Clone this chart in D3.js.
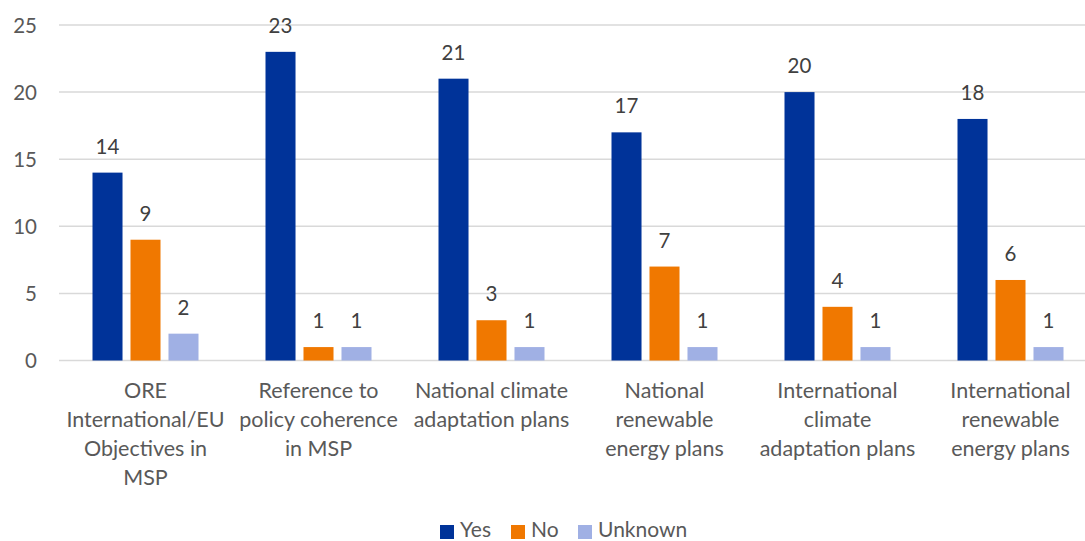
<!DOCTYPE html>
<html>
<head>
<meta charset="utf-8">
<script src="https://cdn.jsdelivr.net/npm/d3@7"></script>
<style>
  html, body { margin: 0; padding: 0; background: #fff; overflow: hidden; }
  svg { display: block; font-family: Lato, "Open Sans", sans-serif; }
</style>
</head>
<body>
<svg id="chart" width="1085" height="541"></svg>
<script>
// Categories, with the line breaks used for their axis labels
const categories = [
  "ORE International/EU Objectives in MSP",
  "Reference to policy coherence in MSP",
  "National climate adaptation plans",
  "National renewable energy plans",
  "International climate adaptation plans",
  "International renewable energy plans"
];
const categoryLines = [
  ["ORE", "International/EU", "Objectives in", "MSP"],
  ["Reference to", "policy coherence", "in MSP"],
  ["National climate", "adaptation plans"],
  ["National", "renewable", "energy plans"],
  ["International", "climate", "adaptation plans"],
  ["International", "renewable", "energy plans"]
];
const seriesNames = ["Yes", "No", "Unknown"];
const yesValues = [14, 23, 21, 17, 20, 18];
const noValues = [9, 1, 3, 7, 4, 6];
const unknownValues = [2, 1, 1, 1, 1, 1];
const yTicks = [0, 5, 10, 15, 20, 25];
const seriesColors = ["#003399", "#F07800", "#A0B0E4"];

(function draw() {
  const series = [yesValues, noValues, unknownValues];
  const svg = d3.select("#chart");

  const plotLeft = 59, plotRight = 1097, plotTop = 25, plotBottom = 360.5;

  const x = d3.scaleBand().domain(categories).range([plotLeft, plotRight]);
  const xs = d3.scaleBand().domain(seriesNames).range([0, 106]).paddingInner(0.21);
  const y = d3.scaleLinear().domain([0, 25]).range([plotBottom, plotTop]);

  // Horizontal gridlines
  svg.append("g")
    .selectAll("line")
    .data(yTicks)
    .join("line")
    .attr("x1", plotLeft).attr("x2", plotRight)
    .attr("y1", d => y(d)).attr("y2", d => y(d))
    .attr("stroke", "#d9d9d9").attr("stroke-width", 1.5);

  // Y axis labels
  const yAxis = d3.axisLeft(y).tickValues(yTicks).tickSize(0).tickPadding(0);
  const yg = svg.append("g").attr("transform", `translate(${plotLeft - 22},0)`).call(yAxis);
  yg.select(".domain").remove();
  yg.selectAll("text")
    .attr("fill", "#595959").attr("font-size", 20.5)
    .attr("font-family", "Lato, 'Open Sans', sans-serif").attr("dy", "0.36em");

  // Bars with value labels
  const groupOffset = (x.bandwidth() - 106) / 2;
  const groups = svg.append("g").selectAll("g")
    .data(categories)
    .join("g")
    .attr("transform", d => `translate(${x(d) + groupOffset},0)`);

  groups.each(function(cat, i) {
    const g = d3.select(this);
    seriesNames.forEach((s, j) => {
      const v = series[j][i];
      g.append("rect")
        .attr("x", xs(s))
        .attr("y", y(v))
        .attr("width", xs.bandwidth())
        .attr("height", y(0) - y(v))
        .attr("fill", seriesColors[j]);
      g.append("text")
        .attr("x", xs(s) + xs.bandwidth() / 2)
        .attr("y", y(v) - 19)
        .attr("text-anchor", "middle")
        .attr("fill", "#404040")
        .attr("font-size", 20.5)
        .text(v);
    });
  });

  // Category labels
  const xg = svg.append("g").selectAll("text")
    .data(categories)
    .join("text")
    .attr("x", d => x(d) + x.bandwidth() / 2)
    .attr("y", 398)
    .attr("text-anchor", "middle")
    .attr("fill", "#595959")
    .attr("font-size", 21.5);
  xg.each(function(d, i) {
    d3.select(this).selectAll("tspan")
      .data(categoryLines[i])
      .join("tspan")
      .attr("x", x(d) + x.bandwidth() / 2)
      .attr("dy", (t, k) => k === 0 ? 0 : 29)
      .text(t => t);
  });

  // Legend
  const legendItems = [
    { name: "Yes", x: 440 },
    { name: "No", x: 511 },
    { name: "Unknown", x: 578 }
  ];
  const lg = svg.append("g").selectAll("g")
    .data(legendItems)
    .join("g")
    .attr("transform", d => `translate(${d.x},0)`);
  lg.append("rect")
    .attr("x", 0).attr("y", 525).attr("width", 14).attr("height", 14)
    .attr("fill", (d, i) => seriesColors[i]);
  lg.append("text")
    .attr("x", 20).attr("y", 537)
    .attr("fill", "#595959").attr("font-size", 21)
    .text(d => d.name);
})();
</script>
</body>
</html>
